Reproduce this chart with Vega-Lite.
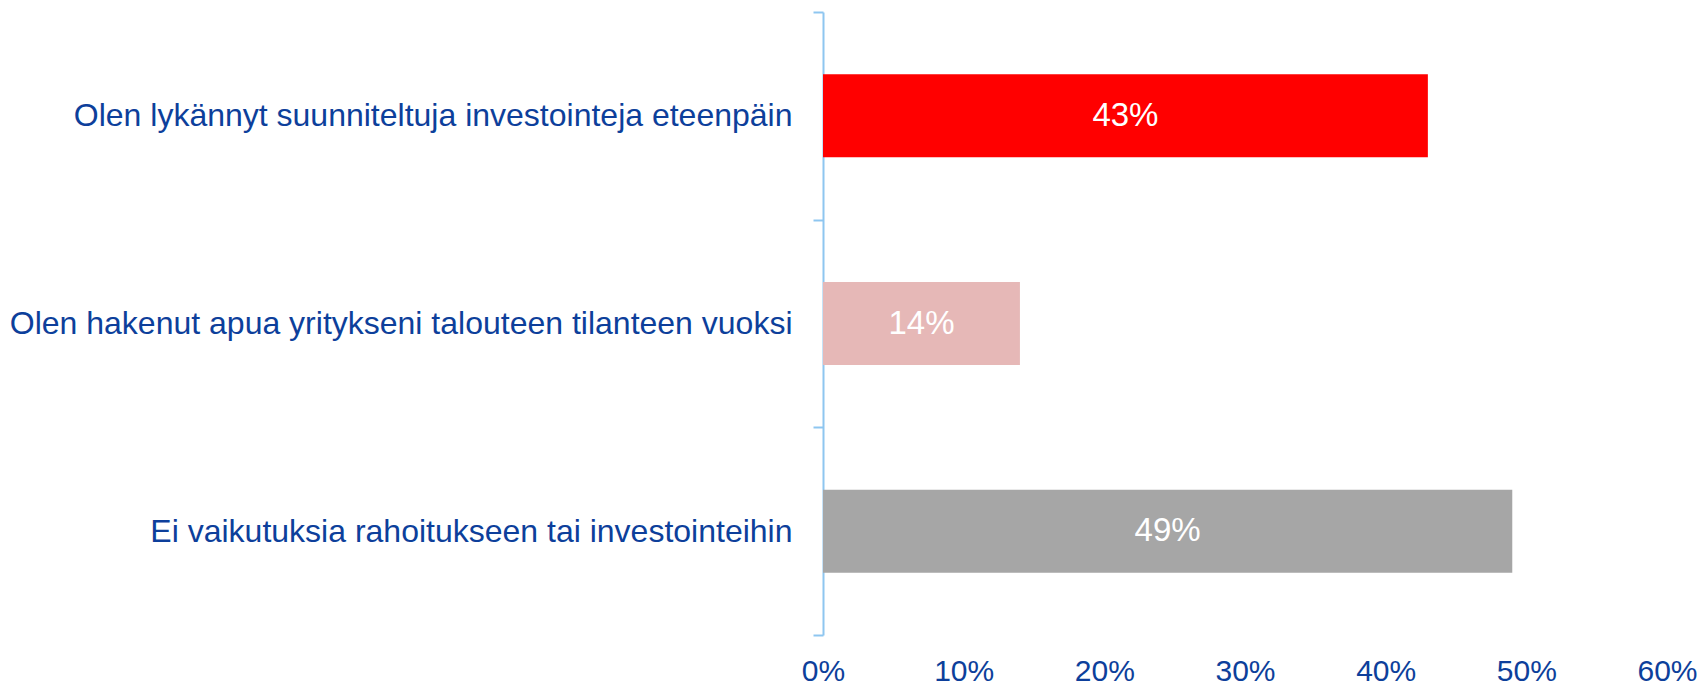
{
  "$schema": "https://vega.github.io/schema/vega-lite/v6.json",
  "width": 844,
  "height": 623,
  "autosize": {"type": "none"},
  "padding": {"left": 823, "top": 12, "right": 34, "bottom": 51},
  "background": "white",
  "config": {
    "view": {"stroke": null},
    "font": "Liberation Sans"
  },
  "data": {
    "values": [
      {"category": "Olen lykännyt suunniteltuja investointeja eteenpäin", "value": 0.43},
      {"category": "Olen hakenut apua yritykseni talouteen tilanteen vuoksi", "value": 0.14},
      {"category": "Ei vaikutuksia rahoitukseen tai investointeihin", "value": 0.49}
    ]
  },
  "transform": [{"calculate": "datum.value / 2", "as": "mid"}],
  "encoding": {
    "y": {
      "field": "category",
      "type": "nominal",
      "sort": null,
      "scale": {"paddingInner": 0, "paddingOuter": 0},
      "axis": {
        "title": null,
        "tickBand": "extent",
        "domainColor": "#8EC6F0",
        "domainWidth": 2,
        "tickColor": "#8EC6F0",
        "tickWidth": 2,
        "tickSize": 10,
        "labelFontSize": 32,
        "labelFont": "Liberation Sans",
        "labelColor": "#0D3F9B",
        "labelPadding": 21,
        "labelLimit": 0
      }
    }
  },
  "layer": [
    {
      "mark": {"type": "bar", "height": {"band": 0.4}},
      "encoding": {
        "x": {
          "field": "value",
          "type": "quantitative",
          "scale": {"domain": [0, 0.6], "nice": false},
          "axis": {
            "title": null,
            "values": [0, 0.1, 0.2, 0.3, 0.4, 0.5, 0.6],
            "format": ".0%",
            "domain": false,
            "ticks": false,
            "grid": false,
            "labelFontSize": 30,
            "labelFont": "Liberation Sans",
            "labelColor": "#0D3F9B",
            "labelPadding": 21,
            "labelFlush": false,
            "labelOverlap": false
          }
        },
        "color": {
          "field": "category",
          "type": "nominal",
          "scale": {
            "domain": [
              "Olen lykännyt suunniteltuja investointeja eteenpäin",
              "Olen hakenut apua yritykseni talouteen tilanteen vuoksi",
              "Ei vaikutuksia rahoitukseen tai investointeihin"
            ],
            "range": ["#FF0000", "#E6B8B7", "#A6A6A6"]
          },
          "legend": null
        }
      }
    },
    {
      "mark": {"type": "text", "color": "white", "fontSize": 33, "font": "Liberation Sans", "align": "center", "baseline": "middle"},
      "encoding": {
        "x": {"field": "mid", "type": "quantitative"},
        "text": {"field": "value", "type": "quantitative", "format": ".0%"}
      }
    }
  ]
}
